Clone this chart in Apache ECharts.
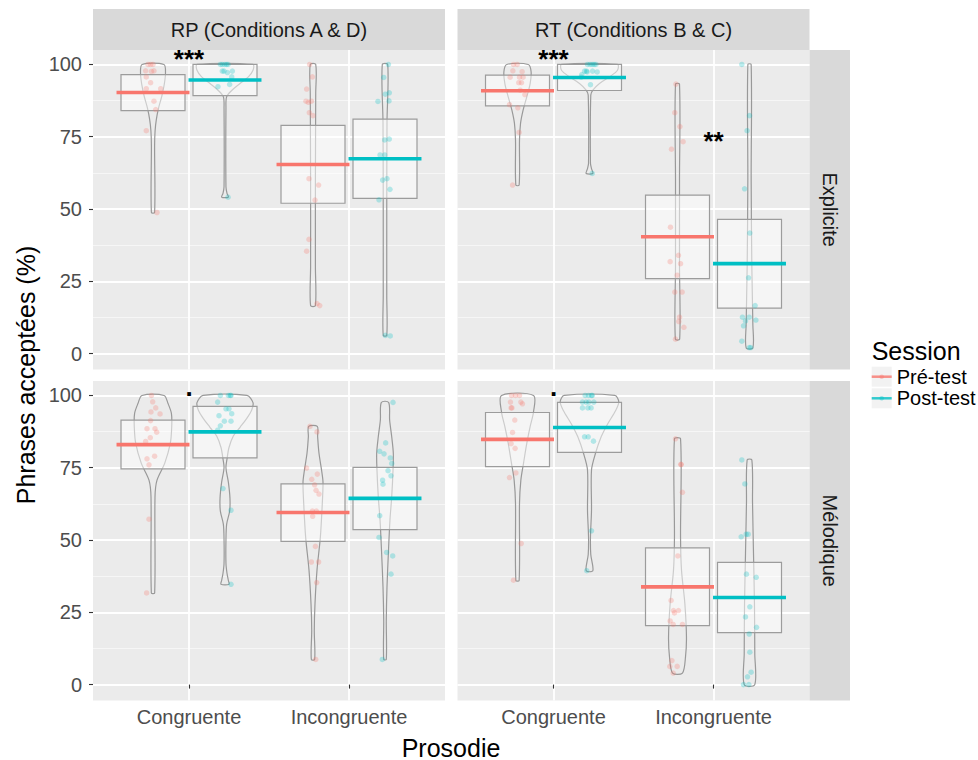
<!DOCTYPE html>
<html><head><meta charset="utf-8">
<script src="https://cdn.jsdelivr.net/npm/echarts@6/dist/echarts.min.js"></script>
<style>html,body{margin:0;padding:0;background:#fff}#c{width:978px;height:760px}</style>
</head><body><div id="c"></div>
<script>
// ---------- categories / labels ----------
const prosodie = ['Congruente', 'Incongruente'];
const sessions = ['Pré-test', 'Post-test'];
const conditions = ['RP (Conditions A & D)', 'RT (Conditions B & C)'];
const consignes = ['Explicite', 'Mélodique'];
const yTicks = [0, 25, 50, 75, 100];
const yMinor = [12.5, 37.5, 62.5, 87.5];

// ---------- individual scores (%) and read-off horizontal jitter (x units) ----------
const rpExpPreC = [100,100,100,97.8,97.6,97.8,95.7,93.7,91.6,91.6,87.3,84.4,77.1,48.8];
const rpExpPreCJit = [-0.031,-0.015,0,-0.046,-0.010,0.006,-0.042,-0.015,-0.042,0.048,0.006,0.017,-0.042,0.025];
const rpExpPostC = [100,100,100,100,100,97.7,97.7,97.2,97.7,95.7,93.1,92.3,54.1];
const rpExpPostCJit = [-0.029,-0.017,-0.002,0.010,0.019,-0.017,-0.006,0.015,0.046,0.042,0.029,-0.044,0.019];
const rpExpPreI = [100,95.7,91.5,87.3,86.9,87.3,83.3,82.3,60.5,58.3,53.1,39.5,35.4,17.3,16.6];
const rpExpPreIJit = [-0.021,-0.004,-0.040,-0.044,-0.029,-0.010,-0.023,0,-0.025,0.035,0.0125,-0.025,-0.040,0.025,0.042];
const rpExpPostI = [100,95.5,89.7,90.2,87.2,87.4,73.9,74.2,68.7,68.7,60.0,60.5,56.8,53.2,6.3,6.1];
const rpExpPostIJit = [0.021,-0.008,0.002,0.027,-0.044,0.025,-0.002,0.027,-0.031,-0.002,-0.015,0.0125,0.031,-0.0375,0.002,0.033];

const rtExpPreC = [100,100,97.8,97.5,95.6,95.6,95.6,93.7,93.7,91.1,89.6,86.1,85.0,76.5,58.3];
const rtExpPreCJit = [-0.025,-0.002,-0.029,0.029,-0.046,0.0125,0.035,0.008,0.025,0.017,0.046,-0.05,0.002,0.010,-0.031];
const rtExpPostC = [100,100,100,100,100,96.5,97.7,97.7,97.4,97.7,97.4,95.6,93.0,62.3];
const rtExpPostCJit = [-0.0125,0.004,0.017,0.029,0.040,-0.048,-0.031,-0.019,-0.015,0.019,0.048,-0.052,0.006,0.017];
const rtExpPreI = [93.2,83.3,78.5,73.3,70.7,43.7,34.0,31.8,31.1,27.1,21.3,21.3,12.6,11.1,9.1,5.0];
const rtExpPreIJit = [-0.010,-0.017,0.015,0.035,-0.0375,-0.044,0.006,-0.046,0.019,-0.002,-0.017,0.029,0.0125,0.008,0.040,-0.0125];
const rtExpPostI = [100,82.3,77.1,57.0,41.7,26.2,16.6,12.6,12.6,11.3,11.6,9.6,4.3,2.1,2.1];
const rtExpPostIJit = [-0.048,0,-0.015,-0.031,0.002,-0.006,0.035,-0.044,-0.002,-0.025,0.040,-0.0375,-0.048,-0.002,0.008];

const rpMelPreC = [100,97.8,95.7,94.3,93.6,91.3,88.5,88.5,87.3,85.4,84.1,79.0,78.1,76.0,57.2,31.7];
const rpMelPreCJit = [-0.010,-0.002,0.017,-0.0125,0.044,-0.015,-0.0375,0.0125,0.023,-0.017,-0.046,0.010,-0.0375,-0.025,-0.025,-0.040];
const rpMelPostC = [100,100,100,100,97.7,95.4,95.4,93.7,93.0,91.1,91.1,89.5,88.0,67.8,60.3,34.7];
const rpMelPostCJit = [-0.029,0.033,0.0375,0.021,-0.046,0.006,0.025,0.042,-0.0375,-0.004,0.0375,-0.029,-0.046,-0.0125,0.0375,0.0375];
const rpMelPreI = [89.3,87.4,74.9,71.0,72.8,69.1,67.2,65.9,60.0,60.0,58.2,47.8,42.4,42.4,35.3,8.7];
const rpMelPreIJit = [-0.019,0.025,-0.040,-0.008,0.027,0.010,0.019,0.0375,-0.004,0.021,-0.002,0.015,-0.010,0.035,0.023,0.017];
const rpMelPostI = [97.6,83.6,80.7,79.8,78.4,76.5,74.0,72.2,70.7,69.3,58.4,50.9,45.7,44.5,38.2,8.7];
const rpMelPostIJit = [0.050,0.004,-0.033,-0.006,0.033,0.042,0.019,0.0375,-0.015,-0.0125,-0.033,-0.0375,0.010,0.048,0.0375,-0.017];

const rtMelPreC = [100,100,100,97.7,97.7,97.1,95.7,95.7,91.5,87.2,83.3,81.7,73.2,71.6,48.8,36.1];
const rtMelPreCJit = [-0.0375,-0.0125,0.0125,-0.044,0.021,0.031,-0.040,-0.035,-0.017,-0.031,-0.040,-0.015,-0.010,-0.05,0.023,-0.025];
const rtMelPostC = [100,100,100,100,97.7,97.7,97.7,97.7,95.7,95.7,95.7,85.7,85.7,84.2,53.2,39.4];
const rtMelPostCJit = [-0.027,-0.006,0.0125,0.017,-0.044,-0.021,-0.004,0.027,-0.044,-0.010,0.010,-0.031,-0.008,0.025,0.0125,-0.017];
const rtMelPreI = [85.0,76.2,76.1,66.5,44.5,29.1,25.6,24.8,25.6,22.0,20.8,20.8,8.3,6.3,6.3,4.0];
const rtMelPreIJit = [-0.0125,0.021,0.023,0.031,0.002,-0.040,-0.025,-0.019,0.006,-0.046,-0.027,0.031,-0.035,-0.048,-0.002,-0.027];
const rtMelPostI = [77.7,69.4,51.1,52.0,52.0,38.2,37.1,26.9,23.4,19.8,17.5,11.2,4.3,2.7,0,0];
const rtMelPostIJit = [-0.048,-0.029,-0.052,-0.021,-0.008,-0.019,0.042,0.002,-0.025,0.044,-0.002,0.002,0.010,-0.0125,-0.0375,-0.004];

// ---------- means and box limits, order: PreC, PostC, PreI, PostI ----------
const rpExpMean = [90.3, 94.6, 65.4, 67.4];
const rpExpLo   = [84.0, 89.2, 52.0, 53.7];
const rpExpHi   = [96.5, 100, 78.9, 81.1];
const rtExpMean = [90.9, 95.5, 40.4, 31.1];
const rtExpLo   = [85.7, 91.0, 25.9, 15.7];
const rtExpHi   = [96.3, 100, 54.8, 46.4];
const rpMelMean = [83.0, 87.4, 59.5, 64.4];
const rpMelLo   = [74.6, 78.4, 49.5, 53.6];
const rpMelHi   = [91.5, 96.2, 69.4, 75.1];
const rtMelMean = [84.8, 88.9, 33.8, 30.1];
const rtMelLo   = [75.4, 80.3, 20.4, 18.0];
const rtMelHi   = [94.1, 97.6, 47.3, 42.3];

// ---------- violin profiles: [value, half width (x units)] ----------
const rpExpPreCViolin = [[100,0.068],[97,0.078],[93,0.07],[89,0.055],[85,0.035],[81,0.021],[77,0.013],[72,0.01],[48.8,0.01]];
const rpExpPostCViolin = [[100,0.175],[98,0.175],[95.7,0.146],[93.4,0.094],[91,0.042],[88.8,0.01],[85,0.006],[57.7,0.006],[55.4,0.0125],[54.1,0.021]];
const rpExpPreIViolin = [[100,0.017],[90,0.017],[60,0.015],[30,0.015],[16.6,0.015]];
const rpExpPostIViolin = [[100,0.017],[80,0.0125],[50,0.011],[20,0.011],[6.3,0.011]];
const rtExpPreCViolin = [[100,0.067],[97.5,0.085],[93.4,0.079],[88.8,0.058],[84.2,0.035],[79.6,0.019],[73.8,0.0125],[58.3,0.0104]];
const rtExpPostCViolin = [[100,0.175],[98,0.175],[95.7,0.125],[93.4,0.0625],[91.1,0.021],[89.4,0.008],[65.8,0.006],[64,0.0125],[62.3,0.021]];
const rtExpPreIViolin = [[93.2,0.0125],[60,0.0125],[30,0.0125],[5,0.0135]];
const rtExpPostIViolin = [[100,0.0104],[60,0.0104],[30,0.0146],[10,0.021],[2,0.021]];
const rpMelPreCViolin = [[100,0.069],[97.2,0.094],[93.8,0.115],[89.2,0.117],[83.4,0.108],[76.5,0.073],[70.7,0.025],[64.9,0.0125],[31.7,0.0104]];
const rpMelPostCViolin = [[100,0.1375],[97.5,0.175],[95,0.167],[92,0.135],[89,0.094],[86,0.052],[82,0.025],[78,0.0125],[75,0.006],[70,0.021],[64.5,0.031],[60,0.029],[55.5,0.0104],[50,0.006],[42,0.006],[38.5,0.0125],[36,0.021],[34.7,0.025]];
const rpMelPreIViolin = [[89.3,0.027],[85.7,0.029],[80,0.0375],[74,0.054],[70,0.0625],[62.6,0.058],[51,0.046],[39.6,0.025],[28,0.0125],[18.8,0.008],[8.7,0.0104]];
const rpMelPostIViolin = [[97.6,0.023],[91.5,0.029],[85.7,0.042],[80,0.052],[74,0.05],[65,0.042],[56.9,0.031],[45.3,0.021],[33.8,0.0125],[22.3,0.008],[8.7,0.008]];
const rtMelPreCViolin = [[100,0.1],[94.3,0.1],[89.2,0.079],[83.4,0.058],[76.5,0.0375],[70.7,0.021],[62.6,0.0125],[36,0.0104]];
const rtMelPostCViolin = [[100,0.158],[97.8,0.183],[94.7,0.1625],[90.3,0.115],[85.7,0.073],[80,0.0375],[74.2,0.0125],[60.3,0.0125],[51,0.006],[45,0.008],[39.4,0.021]];
const rtMelPreIViolin = [[85,0.019],[51,0.019],[39.6,0.025],[28,0.046],[16.5,0.056],[9.6,0.05],[4,0.031]];
const rtMelPostIViolin = [[77.7,0.0146],[62.6,0.019],[45.3,0.025],[28,0.031],[10.7,0.033],[0,0.033]];

// ---------- significance annotations ----------
const sigText  = ['***', '***', '**', '.', '.'];
const sigPanel = [0, 1, 1, 2, 3];
const sigCat   = [1, 1, 2, 1, 1];
const sigY     = [101.9, 101.9, 73.7, 103, 103];

// ---------- assemble ----------
const panels = [
  {pts:[rpExpPreC,rpExpPostC,rpExpPreI,rpExpPostI], jit:[rpExpPreCJit,rpExpPostCJit,rpExpPreIJit,rpExpPostIJit],
   vio:[rpExpPreCViolin,rpExpPostCViolin,rpExpPreIViolin,rpExpPostIViolin], mean:rpExpMean, lo:rpExpLo, hi:rpExpHi},
  {pts:[rtExpPreC,rtExpPostC,rtExpPreI,rtExpPostI], jit:[rtExpPreCJit,rtExpPostCJit,rtExpPreIJit,rtExpPostIJit],
   vio:[rtExpPreCViolin,rtExpPostCViolin,rtExpPreIViolin,rtExpPostIViolin], mean:rtExpMean, lo:rtExpLo, hi:rtExpHi},
  {pts:[rpMelPreC,rpMelPostC,rpMelPreI,rpMelPostI], jit:[rpMelPreCJit,rpMelPostCJit,rpMelPreIJit,rpMelPostIJit],
   vio:[rpMelPreCViolin,rpMelPostCViolin,rpMelPreIViolin,rpMelPostIViolin], mean:rpMelMean, lo:rpMelLo, hi:rpMelHi},
  {pts:[rtMelPreC,rtMelPostC,rtMelPreI,rtMelPostI], jit:[rtMelPreCJit,rtMelPostCJit,rtMelPreIJit,rtMelPostIJit],
   vio:[rtMelPreCViolin,rtMelPostCViolin,rtMelPreIViolin,rtMelPostIViolin], mean:rtMelMean, lo:rtMelLo, hi:rtMelHi}
];

const FONT = '"Liberation Sans", Arial, Helvetica, sans-serif';
const COLORS = ['#F8766D', '#00BFC4'];
const PTCOL = ['rgba(248,118,109,0.34)', 'rgba(0,191,196,0.34)'];
const DODGE = 0.225, BOXW = 0.2, MEANW = 0.228;
const gridPos = [[93, 50], [457.5, 50], [93, 381], [457.5, 381]];
const PW = 352, PH = 319.5;
const YMIN = -5.5, YMAX = 105;
function center(g) { return (g < 2 ? 1 : 2) + (g % 2 === 0 ? -DODGE : DODGE); }

const grids = [], xAxes = [], yAxes = [], yMinorAxes = [], series = [];
for (let i = 0; i < 4; i++) {
  const isLeft = i % 2 === 0, isBottom = i >= 2;
  const P = panels[i];
  grids.push({left: gridPos[i][0], top: gridPos[i][1], width: PW, height: PH, show: true,
    backgroundColor: '#ebebeb', borderWidth: 0, containLabel: false, outerBoundsMode: 'none'});
  xAxes.push({type: 'value', gridIndex: i, min: 0.4, max: 2.6, axisLine: {show: false},
    axisTick: {show: isBottom, customValues: [1, 2], length: 4, lineStyle: {color: '#333333', width: 1.1}},
    axisLabel: {show: isBottom, customValues: [1, 2], formatter: v => prosodie[Math.round(v) - 1],
      fontSize: 20, color: '#4d4d4d', fontFamily: FONT, margin: 6},
    splitLine: {show: true, lineStyle: {color: '#ffffff', width: 1.8}}});
  yAxes.push({type: 'value', gridIndex: i, min: YMIN, max: YMAX, axisLine: {show: false},
    axisTick: {show: isLeft, customValues: yTicks, length: 4, lineStyle: {color: '#333333', width: 1.1}},
    axisLabel: {show: isLeft, customValues: yTicks, fontSize: 20, color: '#4d4d4d', fontFamily: FONT, margin: 11},
    splitLine: {show: true, lineStyle: {color: '#ffffff', width: 1.8}}});
  yMinorAxes.push({type: 'value', gridIndex: i, min: YMIN, max: YMAX, axisLine: {show: false},
    axisTick: {show: false, customValues: yMinor}, axisLabel: {show: false, customValues: yMinor},
    splitLine: {show: true, lineStyle: {color: '#f7f7f7', width: 0.9}}});

  // violins
  series.push({type: 'custom', xAxisIndex: i, yAxisIndex: i, silent: true, z: 2,
    data: P.mean.map((m, g) => [center(g), m]),
    renderItem: (params, api) => {
      const g = params.dataIndex, xc = api.value(0), prof = P.vio[g];
      const pts = [];
      prof.forEach(d => pts.push(api.coord([xc + d[1], d[0]])));
      for (let k = prof.length - 1; k >= 0; k--) pts.push(api.coord([xc - prof[k][1], prof[k][0]]));
      return {type: 'polygon', shape: {points: pts, smooth: 0.3},
        style: {fill: 'none', stroke: '#999999', lineWidth: 1.2}};
    }});
  // boxes
  series.push({type: 'custom', xAxisIndex: i, yAxisIndex: i, silent: true, z: 3,
    data: P.mean.map((m, g) => [center(g), P.lo[g], P.hi[g]]),
    renderItem: (params, api) => {
      const xc = api.value(0);
      const a = api.coord([xc - BOXW, api.value(2)]), b = api.coord([xc + BOXW, api.value(1)]);
      return {type: 'rect', shape: {x: a[0], y: a[1], width: b[0] - a[0], height: b[1] - a[1]},
        style: {fill: 'rgba(255,255,255,0.5)', stroke: '#9c9c9c', lineWidth: 1.2}};
    }});
  // points and means per session
  for (let s = 0; s < 2; s++) {
    const data = [];
    [s, s + 2].forEach(g => P.pts[g].forEach((v, k) => data.push([center(g) + P.jit[g][k], v])));
    series.push({type: 'scatter', name: sessions[s], xAxisIndex: i, yAxisIndex: i, silent: true, z: 4,
      symbol: 'circle', symbolSize: 5.5, itemStyle: {color: PTCOL[s], borderWidth: 0}, data: data});
  }
  for (let s = 0; s < 2; s++) {
    series.push({type: 'custom', name: sessions[s], xAxisIndex: i, yAxisIndex: i, silent: true, z: 5,
      itemStyle: {color: COLORS[s]},
      data: [s, s + 2].map(g => [center(g), P.mean[g]]),
      renderItem: (params, api) => {
        const xc = api.value(0), m = api.value(1);
        const a = api.coord([xc - MEANW, m]), b = api.coord([xc + MEANW, m]);
        return {type: 'line', shape: {x1: a[0], y1: a[1], x2: b[0], y2: b[1]},
          style: {stroke: COLORS[s], lineWidth: 3.6}};
      }});
  }
  // significance marks
  const sIdx = sigPanel.map((p, k) => p === i ? k : -1).filter(k => k >= 0);
  if (sIdx.length) {
    series.push({type: 'custom', xAxisIndex: i, yAxisIndex: i, silent: true, z: 6,
      data: sIdx.map(k => [sigCat[k], sigY[k]]),
      renderItem: (params, api) => {
        const k = sIdx[params.dataIndex];
        const p = api.coord([api.value(0), api.value(1)]);
        return {type: 'text', x: p[0], y: p[1],
          style: {text: sigText[k], fontSize: 26, fontWeight: 'bold', fontFamily: FONT, fill: '#000',
            align: 'center', verticalAlign: 'middle'}};
      }});
  }
}

const txt = (x, y, text, size, color, rot) => ({type: 'text', x: x, y: y, rotation: rot || 0, silent: true,
  style: {text: text, fontSize: size, fontFamily: FONT, fill: color, align: 'center', verticalAlign: 'middle'}});

const graphic = [
  {type: 'rect', shape: {x: 93, y: 9, width: PW, height: 41}, style: {fill: '#d9d9d9'}, silent: true},
  {type: 'rect', shape: {x: 457.5, y: 9, width: PW, height: 41}, style: {fill: '#d9d9d9'}, silent: true},
  {type: 'rect', shape: {x: 809.5, y: 50, width: 40.5, height: PH}, style: {fill: '#d9d9d9'}, silent: true},
  {type: 'rect', shape: {x: 809.5, y: 381, width: 40.5, height: PH}, style: {fill: '#d9d9d9'}, silent: true},
  txt(93 + PW / 2, 29.7, conditions[0], 20, '#1a1a1a'),
  txt(457.5 + PW / 2, 29.7, conditions[1], 20, '#1a1a1a'),
  txt(829.5, 50 + PH / 2, consignes[0], 20, '#1a1a1a', -Math.PI / 2),
  txt(829.5, 381 + PH / 2, consignes[1], 20, '#1a1a1a', -Math.PI / 2),
  txt(451, 747.5, 'Prosodie', 25, '#000'),
  txt(26, 375, 'Phrases acceptées (%)', 25, '#000', Math.PI / 2),
  {type: 'text', x: 871.7, y: 350.5, silent: true,
   style: {text: 'Session', fontSize: 25, fontFamily: FONT, fill: '#000', align: 'left', verticalAlign: 'middle'}},
  {type: 'rect', shape: {x: 871.7, y: 366.7, width: 20, height: 20}, style: {fill: '#f2f2f2'}, silent: true, z: -1},
  {type: 'rect', shape: {x: 871.7, y: 388.3, width: 20, height: 20}, style: {fill: '#f2f2f2'}, silent: true, z: -1},
  {type: 'circle', shape: {cx: 881.7, cy: 376.7, r: 2.3}, style: {fill: PTCOL[0]}, silent: true, z: -1},
  {type: 'circle', shape: {cx: 881.7, cy: 398.3, r: 2.3}, style: {fill: PTCOL[1]}, silent: true, z: -1}
];

const chart = echarts.init(document.getElementById('c'), null, {renderer: 'svg', width: 978, height: 760});
chart.setOption({
  animation: false,
  backgroundColor: '#ffffff',
  textStyle: {fontFamily: FONT},
  grid: grids,
  xAxis: xAxes,
  yAxis: yAxes.concat(yMinorAxes),
  legend: {
    data: sessions.map((s, k) => ({name: s, itemStyle: {color: COLORS[k]}})),
    orient: 'vertical', left: 871.7, top: 366.7, padding: 0, icon: 'rect',
    itemWidth: 20, itemHeight: 2.5, itemGap: 1.6, selectedMode: false,
    textStyle: {fontSize: 20, color: '#000', fontFamily: FONT, lineHeight: 20}
  },
  graphic: graphic,
  series: series
});
</script></body></html>
